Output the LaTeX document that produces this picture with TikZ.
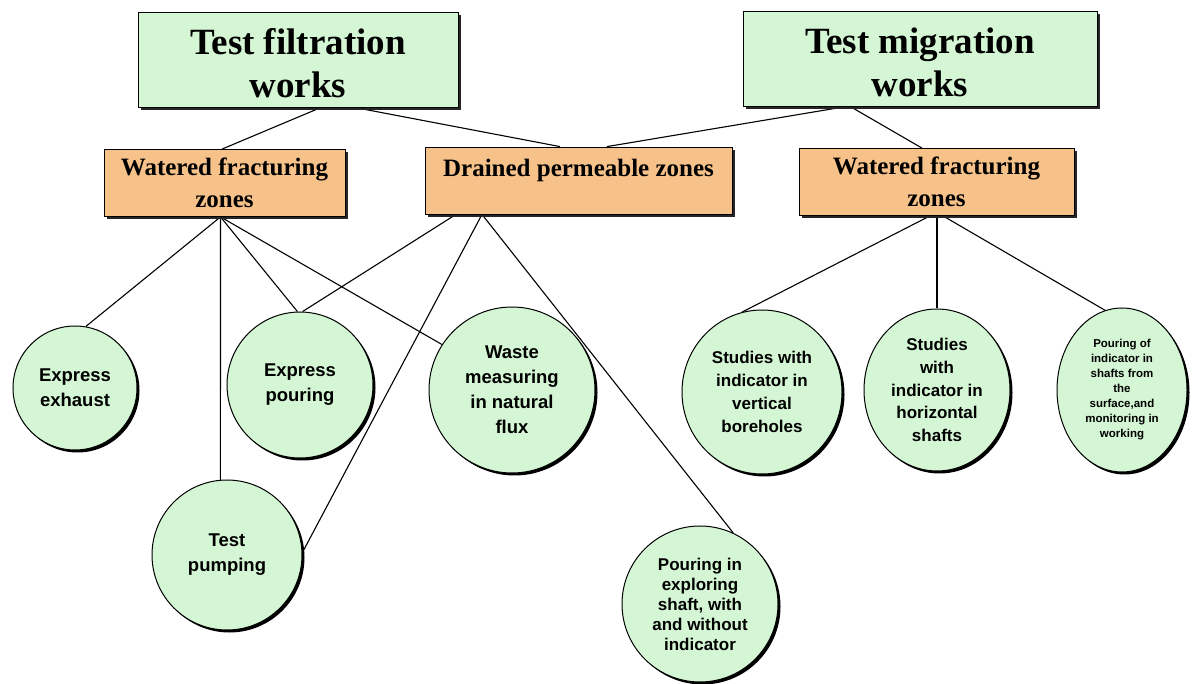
\documentclass[tikz,border=0pt]{standalone}
\usepackage{fontspec}
\setmainfont{Liberation Serif}
\newfontfamily\arialf{Liberation Sans}
\usetikzlibrary{shapes.geometric,shadows}
\pgfdeclarelayer{bg}
\pgfsetlayers{bg,main}
\definecolor{mint}{RGB}{212,246,212}
\definecolor{peach}{RGB}{246,194,138}
\tikzset{
  shade3/.style={drop shadow={shadow xshift=3pt,shadow yshift=-3pt,opacity=1,fill=black!85}},
  topbox/.style={draw=black,line width=0.8pt,fill=mint,inner sep=0pt,minimum height=95,
    text height=76pt,align=center,font=\fontsize{37}{43}\selectfont\bfseries,shade3},
  zonebox/.style={draw=black,line width=0.8pt,fill=peach,inner sep=0pt,minimum height=67,
    align=center,font=\fontsize{25}{32}\selectfont\bfseries,shade3},
  circ/.style={circle,draw=black,line width=1pt,fill=mint,inner sep=0pt,align=center,
    font=\arialf\bfseries\fontsize{18.5}{25}\selectfont,
    drop shadow={shadow xshift=2.5pt,shadow yshift=-2.5pt,opacity=1,fill=black}},
  ell/.style={ellipse,draw=black,line width=1pt,fill=mint,inner sep=0pt,align=center,
    font=\arialf\bfseries\fontsize{17}{22.8}\selectfont,
    drop shadow={shadow xshift=2.5pt,shadow yshift=-2.5pt,opacity=1,fill=black}},
  conn/.style={draw=black,line width=1.1pt}
}
\begin{document}
\begin{tikzpicture}[x=1pt,y=-1pt]
\useasboundingbox (0,0) rectangle (1195,684);
% top boxes
\node[topbox,minimum width=320] (filt) at (298,60) {Test filtration\\works};
\node[topbox,minimum width=354] (mig) at (920,58.5) {Test migration\\works};
% zone boxes
\node[zonebox,minimum width=241] (lo) at (224.5,183) {Watered fracturing\\zones};
\node[zonebox,minimum width=307,text height=57pt] (dr) at (578.5,180.5) {Drained permeable zones\\\mbox{}};
\node[zonebox,minimum width=275] (ro) at (936.5,182) {Watered fracturing\\zones};
% circles
\node[circ,minimum size=124] (exh) at (75,388) {Express\\exhaust};
\node[circ,minimum size=146] (ep) at (300,385) {Express\\pouring};
\node[circ,minimum size=166] (waste) at (512,390) {Waste\\measuring\\in natural\\flux};
\node[circ,minimum size=150] (pump) at (227,555) {Test\\pumping};
\node[circ,minimum size=156,font=\arialf\bfseries\fontsize{17}{20}\selectfont] (expl) at (700,604)
  {Pouring in\\exploring\\shaft, with\\and without\\indicator};
\node[ell,minimum width=160,minimum height=164] (vert) at (762,392)
  {Studies with\\indicator in\\vertical\\boreholes};
\node[ell,minimum width=146,minimum height=162] (hor) at (937,390)
  {Studies\\with\\indicator in\\horizontal\\shafts};
\node[ell,minimum width=130,minimum height=164,font=\arialf\bfseries\fontsize{11.5}{15}\selectfont] (ind) at (1122,390)
  {Pouring of\\indicator in\\shafts from\\the\\surface,and\\monitoring in\\working};
% connectors
\begin{pgfonlayer}{bg}
\draw[conn] ([xshift=22pt]filt.south) -- ([xshift=-2.5pt]lo.north);
\draw[conn] ([xshift=59pt]filt.south) -- ([xshift=-18.5pt]dr.north);
\draw[conn] ([xshift=-73pt]mig.south) -- ([xshift=28.5pt]dr.north);
\draw[conn] ([xshift=-70pt]mig.south) -- ([xshift=-14.5pt]ro.north);
\draw[conn] ([xshift=-4pt]lo.south) -- (exh.80);
\draw[conn] ([xshift=-4pt]lo.south) -- (pump.95);
\draw[conn] ([xshift=-4pt]lo.south) -- (ep.92);
\draw[conn] ([xshift=-4pt]lo.south) -- (waste.147);
\draw[conn] ([xshift=-122.5pt]dr.south) -- (ep.88);
\draw[conn] ([xshift=-96.5pt]dr.south) -- (pump.2);
\draw[conn] ([xshift=-96.5pt]dr.south) -- (expl.65);
\draw[conn] ([xshift=-6.5pt]ro.south) -- (vert.104);
\draw[conn] ([xshift=0.5pt]ro.south) -- (hor.north);
\draw[conn] ([xshift=6.5pt]ro.south) -- (ind.102);
\end{pgfonlayer}
\end{tikzpicture}
\end{document}
